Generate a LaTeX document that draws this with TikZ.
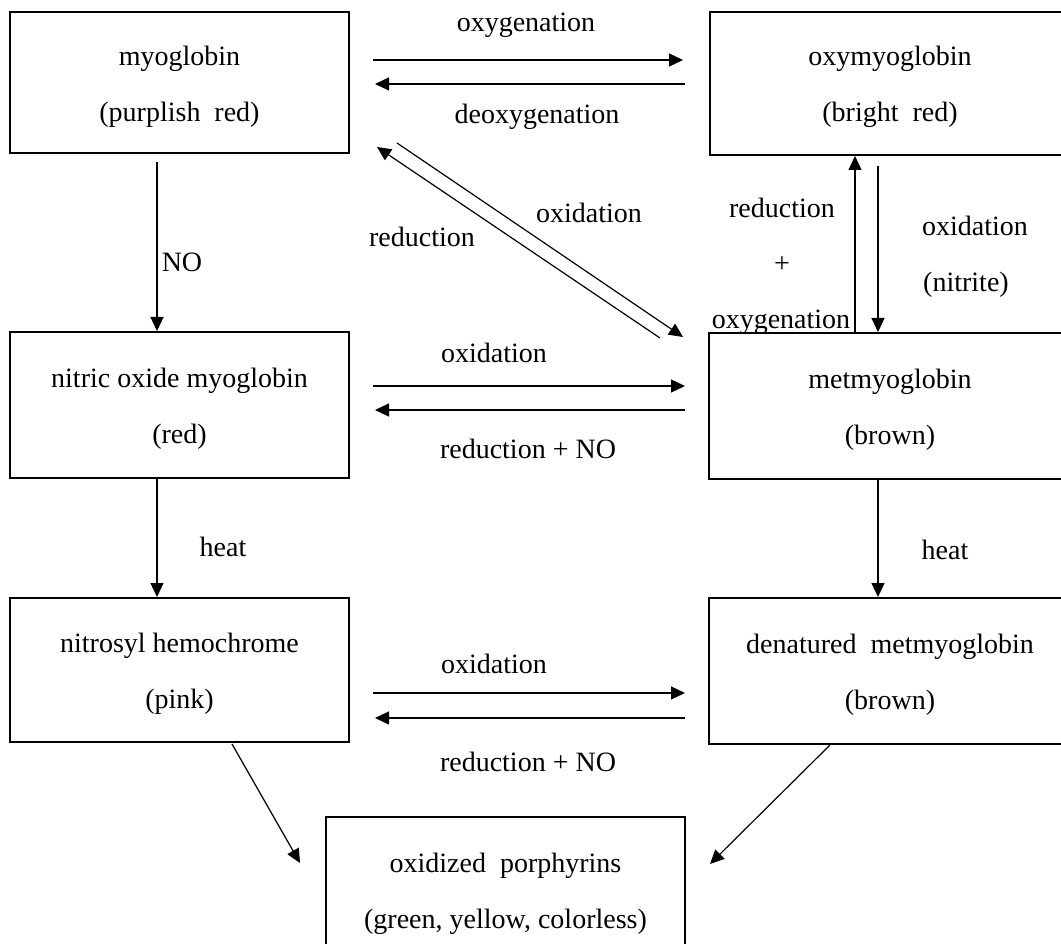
\documentclass[tikz,border=0pt]{standalone}
\usepackage{fontspec}
\setmainfont{Liberation Serif}
\usetikzlibrary{arrows.meta,calc}
\newcommand{\tallstrut}{\rule{0pt}{27pt}}
\begin{document}
\begin{tikzpicture}[x=1pt,y=-1pt,
  box/.style={draw,line width=1.3pt,inner sep=0pt,outer sep=0pt,align=center,
    font=\fontsize{28}{56}\selectfont},
  lbl/.style={inner sep=0pt,anchor=base,font=\fontsize{28}{33}\selectfont},
  conn/.style={line width=1.2pt,-{Triangle[length=14pt,width=13pt]}}]
\useasboundingbox (0,0) rectangle (1061,944);
\clip (0,0) rectangle (1061,944);
% boxes
\node[box,minimum width=339pt,minimum height=141pt] (b1) at (179.5,82.5) {\tallstrut myoglobin\\(purplish\ \ red)};
\node[box,minimum width=360pt,minimum height=143pt] (b2) at (890,83.5) {\tallstrut oxymyoglobin\\(bright\ \ red)};
\node[box,minimum width=339pt,minimum height=146pt] (b3) at (179.5,405) {\tallstrut nitric oxide myoglobin\\(red)};
\node[box,minimum width=362pt,minimum height=146pt] (b4) at (890,406) {\tallstrut metmyoglobin\\(brown)};
\node[box,minimum width=339pt,minimum height=144pt] (b5) at (179.5,670) {\tallstrut nitrosyl hemochrome\\(pink)};
\node[box,minimum width=362pt,minimum height=146pt] (b6) at (890,671) {\tallstrut denatured\ \ metmyoglobin\\(brown)};
\node[box,minimum width=359pt,minimum height=146pt] (b7) at (505.5,890) {\tallstrut oxidized\ \ porphyrins\\(green, yellow, colorless)};
% connectors
\draw[conn] ($(b1.east)+(24,-22.5)$) -- ($(b2.west)+(-27,-23.5)$);
\draw[conn] ($(b2.west)+(-25,0.5)$) -- ($(b1.east)+(26,1.5)$);
\draw[conn] ($(b4.north west)+(-49,5)$) -- ($(b1.south east)+(28,-6)$);
\draw[conn] ($(b1.south east)+(48,-10)$) -- ($(b4.north west)+(-26,4)$);
\draw[conn] ($(b4.north)+(-35,0)$) -- ($(b2.south)+(-35,1)$);
\draw[conn] ($(b2.south)+(-12,11)$) -- ($(b4.north)+(-12,-1)$);
\draw[conn] ($(b1.south)+(-22.5,9)$) -- ($(b3.north)+(-22.5,-1)$);
\draw[conn] ($(b3.east)+(24,-19)$) -- ($(b4.west)+(-24,-20)$);
\draw[conn] ($(b4.west)+(-24,4)$) -- ($(b3.east)+(26,5)$);
\draw[conn] ($(b3.south)+(-22.5,0)$) -- ($(b5.north)+(-22.5,-1)$);
\draw[conn] ($(b4.south)+(-12,0)$) -- ($(b6.north)+(-12,-1)$);
\draw[conn] ($(b5.east)+(24,23)$) -- ($(b6.west)+(-24,22)$);
\draw[conn] ($(b6.west)+(-24,47)$) -- ($(b5.east)+(26,48)$);
\draw[conn] ($(b5.south)+(52.5,2)$) -- ($(b7.north west)+(-26,46)$);
\draw[conn] ($(b6.south)+(-60,1)$) -- ($(b7.north east)+(25,47)$);
% labels
\node[lbl] (l1) at (526,32) {oxygenation};
\node[lbl] (l2) at (537,124) {deoxygenation};
\node[lbl] (l3) at (589,223) {oxidation};
\node[lbl] (l4) at (422,247) {reduction};
\node[lbl] (l5) at (782,218) {reduction};
\node[lbl] (l6) at (782,273) {+};
\node[lbl] (l7) at (781,328) {oxygenation};
\node[lbl] (l8) at (975,236) {oxidation};
\node[lbl] (l9) at (966,292) {(nitrite)};
\node[lbl] (l10) at (182,272) {NO};
\node[lbl] (l11) at (223,556) {heat};
\node[lbl] (l12) at (945,559) {heat};
\node[lbl] (l13) at (494,362) {oxidation};
\node[lbl] (l14) at (528,458) {reduction + NO};
\node[lbl] (l15) at (494,673) {oxidation};
\node[lbl] (l16) at (528,771) {reduction + NO};
\end{tikzpicture}
\end{document}
